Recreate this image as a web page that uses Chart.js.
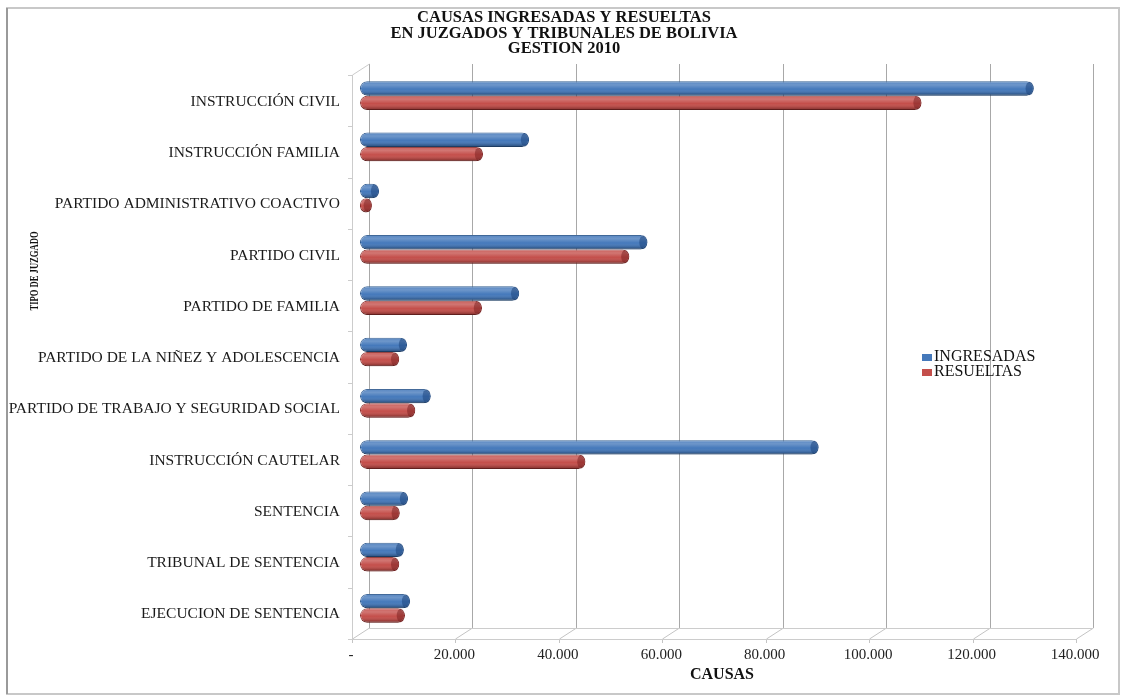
<!DOCTYPE html>
<html>
<head>
<meta charset="utf-8">
<title>Causas ingresadas y resueltas 2010</title>
<script src="https://cdn.jsdelivr.net/npm/chart.js@4/dist/chart.umd.min.js"></script>
<style>
  html, body { margin: 0; padding: 0; background: #ffffff; }
  #wrap { width: 1125px; height: 696px; position: relative; }
</style>
</head>
<body>
<div id="wrap"><canvas id="c"></canvas></div>
<script>
// Court types (top to bottom)
const categories = [
  'INSTRUCCIÓN CIVIL',
  'INSTRUCCIÓN FAMILIA',
  'PARTIDO ADMINISTRATIVO COACTIVO',
  'PARTIDO CIVIL',
  'PARTIDO DE FAMILIA',
  'PARTIDO DE LA NIÑEZ Y ADOLESCENCIA',
  'PARTIDO DE TRABAJO Y SEGURIDAD SOCIAL',
  'INSTRUCCIÓN CAUTELAR',
  'SENTENCIA',
  'TRIBUNAL DE SENTENCIA',
  'EJECUCION DE SENTENCIA'
];

// Cases filed and resolved, 2010
const ingresadas = [130300, 32700, 3700, 55600, 30800, 9100, 13700, 88700, 9300, 8500, 9700];
const resueltas  = [108600, 23800, 2300, 52100, 23600, 7600, 10700, 43600, 7700, 7600, 8700];

const xTickLabels = ['-', '20.000', '40.000', '60.000', '80.000', '100.000', '120.000', '140.000'];

const titleLines = ['CAUSAS INGRESADAS Y RESUELTAS', 'EN JUZGADOS Y TRIBUNALES DE BOLIVIA', 'GESTION 2010'];
const xTitle = 'CAUSAS';
const yTitle = 'TIPO DE JUZGADO';

const SERIF = "'Liberation Serif', 'DejaVu Serif', serif";
const BLUE = '#4579bb', BLUE_DARK = '#2a568c';
const RED = '#c44f4b', RED_DARK = '#8a2c2a';

// depth offsets of the pseudo-3D box relative to the bar plane
const FRONT_DX = -8, FRONT_DY = 5, BACK_DX = 9, BACK_DY = -6;

const boxPlugin = {
  id: 'box3d',
  beforeDraw(chart) {
    const ctx = chart.ctx;
    ctx.save();
    ctx.fillStyle = '#ffffff';
    ctx.fillRect(0, 0, chart.width, chart.height);
    // outer frame
    ctx.strokeStyle = '#c8c8c8';
    ctx.lineWidth = 2;
    ctx.strokeRect(7, 8, 1112, 686);
    ctx.strokeStyle = '#9a9a9a';
    ctx.beginPath();
    ctx.moveTo(7, 8);
    ctx.lineTo(7, 694);
    ctx.stroke();
    ctx.restore();
  },
  beforeDatasetsDraw(chart) {
    const ctx = chart.ctx;
    const x = chart.scales.x;
    const top = chart.chartArea.top, bottom = chart.chartArea.bottom;
    ctx.save();
    ctx.lineWidth = 1;
    // back wall gridlines and floor connectors
    for (let v = 0; v <= 140000; v += 20000) {
      const px = Math.round(x.getPixelForValue(v));
      ctx.strokeStyle = '#a8a8a8';
      ctx.beginPath();
      ctx.moveTo(px + BACK_DX + 0.5, top + BACK_DY);
      ctx.lineTo(px + BACK_DX + 0.5, bottom + BACK_DY);
      ctx.stroke();
      ctx.strokeStyle = '#c4c4c4';
      ctx.beginPath();
      ctx.moveTo(px + FRONT_DX + 0.5, bottom + FRONT_DY + 4);
      ctx.lineTo(px + FRONT_DX + 0.5, bottom + FRONT_DY);
      ctx.lineTo(px + BACK_DX + 0.5, bottom + BACK_DY);
      ctx.stroke();
    }
    const x0 = Math.round(x.getPixelForValue(0)), x1 = Math.round(x.getPixelForValue(140000));
    ctx.strokeStyle = '#cccccc';
    // back floor edge
    ctx.beginPath();
    ctx.moveTo(x0 + BACK_DX, bottom + BACK_DY + 0.5);
    ctx.lineTo(x1 + BACK_DX, bottom + BACK_DY + 0.5);
    ctx.stroke();
    // front floor edge
    ctx.beginPath();
    ctx.moveTo(x0 + FRONT_DX, bottom + FRONT_DY + 0.5);
    ctx.lineTo(x1 + FRONT_DX, bottom + FRONT_DY + 0.5);
    ctx.stroke();
    // front left edge and top slant
    ctx.beginPath();
    ctx.moveTo(x0 + FRONT_DX + 0.5, bottom + FRONT_DY);
    ctx.lineTo(x0 + FRONT_DX + 0.5, top + FRONT_DY);
    ctx.lineTo(x0 + BACK_DX + 0.5, top + BACK_DY);
    ctx.stroke();
    // category tick marks on the left edge
    const step = (bottom - top) / categories.length;
    for (let i = 0; i <= categories.length; i++) {
      const ty = Math.round(top + i * step + FRONT_DY) + 0.5;
      ctx.beginPath();
      ctx.moveTo(x0 + FRONT_DX - 4, ty);
      ctx.lineTo(x0 + FRONT_DX, ty);
      ctx.stroke();
    }
    ctx.restore();
  },
  afterDatasetsDraw(chart) {
    // cylinder shading over each bar
    const ctx = chart.ctx;
    chart.data.datasets.forEach((ds, di) => {
      const meta = chart.getDatasetMeta(di);
      meta.data.forEach((bar) => {
        const h = bar.height;
        const yTop = bar.y - h / 2;
        const left = Math.min(bar.base, bar.x), right = Math.max(bar.base, bar.x);
        const r = h / 2;
        ctx.save();
        ctx.beginPath();
        ctx.roundRect(left, yTop, right - left, h, r);
        ctx.clip();
        const g = ctx.createLinearGradient(0, yTop, 0, yTop + h);
        g.addColorStop(0, 'rgba(255,255,255,0.10)');
        g.addColorStop(0.25, 'rgba(255,255,255,0.22)');
        g.addColorStop(0.55, 'rgba(255,255,255,0.0)');
        g.addColorStop(0.85, 'rgba(0,0,0,0.18)');
        g.addColorStop(1, 'rgba(0,0,0,0.35)');
        ctx.fillStyle = g;
        ctx.fillRect(left, yTop, right - left, h);
        ctx.restore();
        // end face of the cylinder
        ctx.save();
        ctx.beginPath();
        ctx.ellipse(right - r * 0.6, bar.y, r * 0.55, r - 0.5, 0, 0, Math.PI * 2);
        ctx.fillStyle = di === 0 ? 'rgba(30,70,125,0.55)' : 'rgba(120,30,30,0.5)';
        ctx.fill();
        ctx.restore();
      });
    });
  },
  afterDraw(chart) {
    const ctx = chart.ctx;
    // chart title, three centred lines
    ctx.save();
    ctx.font = 'bold 16.5px ' + SERIF;
    ctx.fillStyle = '#111';
    ctx.textAlign = 'center';
    ctx.textBaseline = 'middle';
    const titleY = [18, 33.5, 49];
    titleLines.forEach((t, i) => ctx.fillText(t, 564, titleY[i]));
    ctx.restore();
    // vertical axis title
    ctx.save();
    ctx.translate(35, 271);
    ctx.rotate(-Math.PI / 2);
    ctx.scale(0.66, 1);
    ctx.font = 'bold 13px ' + SERIF;
    ctx.fillStyle = '#111';
    ctx.textAlign = 'center';
    ctx.textBaseline = 'middle';
    ctx.fillText(yTitle, 0, 0);
    ctx.restore();
    // legend
    ctx.save();
    ctx.font = '16px ' + SERIF;
    ctx.textBaseline = 'middle';
    chart.data.datasets.forEach((ds, i) => {
      const ly = 357 + i * 15;
      ctx.fillStyle = ds.backgroundColor;
      ctx.fillRect(922, ly - 3, 10, 7);
      ctx.fillStyle = '#111';
      ctx.fillText(ds.label, 934, ly);
    });
    ctx.restore();
  }
};

new Chart(document.getElementById('c'), {
  type: 'bar',
  data: {
    labels: categories,
    datasets: [
      { label: 'INGRESADAS', data: ingresadas, backgroundColor: BLUE, borderColor: BLUE_DARK,
        borderWidth: 1, borderSkipped: false, borderRadius: 7,
        categoryPercentage: 0.56, barPercentage: 1.0 },
      { label: 'RESUELTAS', data: resueltas, backgroundColor: RED, borderColor: RED_DARK,
        borderWidth: 1, borderSkipped: false, borderRadius: 7,
        categoryPercentage: 0.56, barPercentage: 1.0 }
    ]
  },
  options: {
    indexAxis: 'y',
    responsive: true,
    maintainAspectRatio: false,
    animation: false,
    layout: { padding: { left: 0, right: 41, top: 70, bottom: 12 } },
    plugins: {
      legend: { display: false },
      tooltip: { enabled: false },
      title: { display: false }
    },
    scales: {
      x: {
        type: 'linear',
        min: 0, max: 140000,
        grid: { display: false, drawTicks: false },
        border: { display: false },
        ticks: {
          stepSize: 20000,
          padding: 12,
          labelOffset: -9,
          color: '#222',
          font: { family: SERIF, size: 15 },
          callback: (v, i) => xTickLabels[i]
        },
        title: {
          display: true,
          text: xTitle,
          color: '#111',
          font: { family: SERIF, size: 16, weight: 'bold' },
          padding: { top: 0, bottom: 0 }
        },
        afterFit: (s) => { s.height = 50; }
      },
      y: {
        grid: { display: false, drawTicks: false },
        border: { display: false },
        ticks: {
          padding: 20,
          labelOffset: 6,
          color: '#1a1a1a',
          font: { family: SERIF, size: 15.5 }
        },
        afterFit: (s) => { s.width = 360; }
      }
    }
  },
  plugins: [boxPlugin]
});
</script>
</body>
</html>
